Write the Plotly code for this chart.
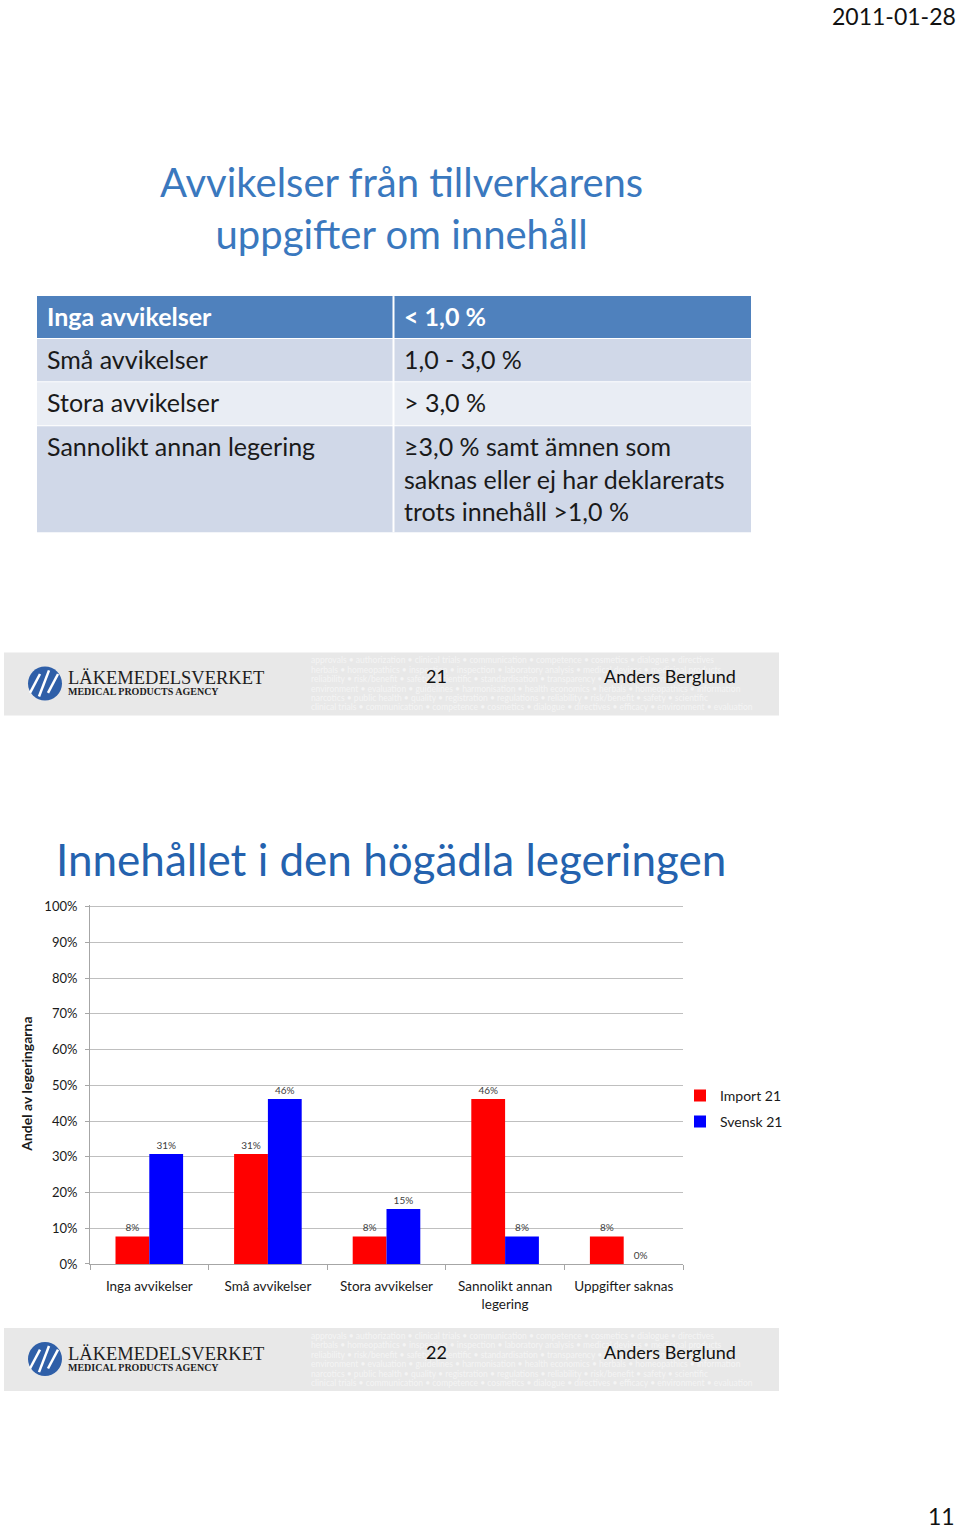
import plotly.graph_objects as go

W, H = 960, 1536
# calibration of the page -> picture mapping observed in the renderer (vertical only)
Y0, YS = 8.2, 0.9893

# ---------------- data ----------------
categories = ["Inga avvikelser", "Små avvikelser", "Stora avvikelser",
              "Sannolikt annan<br>legering", "Uppgifter saknas"]
import_vals = [0.077, 0.308, 0.077, 0.462, 0.077]
svensk_vals = [0.308, 0.462, 0.154, 0.077, 0.0]
series_names = ["Import 21", "Svensk 21"]

table_left = ["Inga avvikelser", "Små avvikelser", "Stora avvikelser",
              "Sannolikt annan legering"]
table_right = ["< 1,0 %", "1,0 - 3,0 %", "> 3,0 %",
               "≥3,0 % samt ämnen som<br>saknas eller ej har deklarerats<br>trots innehåll >1,0 %"]

page_numbers = ["21", "22"]
author = "Anders Berglund"
date_text = "2011-01-28"
page_label = "11"
slide1_title = "Avvikelser från tillverkarens<br>uppgifter om innehåll"
slide2_title = "Innehållet i den högädla legeringen"
y_title = "Andel av legeringarna"

watermark = [
    "approvals • authorization • clinical trials • communication • competence • cosmetics • dialogue • directives",
    "herbals • homeopathics • inspection • inspection • laboratory analysis • medical devices • medicinal products",
    "reliability • risk/benefit • safety • scientific • standardisation • transparency • pharmacovigilance • authority",
    "environment • evaluation • guidelines • harmonisation • health economics • herbals • homeopathics • information",
    "narcotics • public health • quality • registration • regulations • reliability • risk/benefit • safety • scientific",
    "clinical trials • communication • competence • cosmetics • dialogue • directives • efficacy • environment • evaluation",
]


def px(x):
    return x / W


def py(y):
    return 1 - ((y - Y0) / YS) / H


FONT = "Lato, 'Open Sans', sans-serif"
SERIF = "'Liberation Serif', 'DejaVu Serif', serif"

fig = go.Figure()
fig.add_trace(go.Bar(x=categories, y=import_vals, name=series_names[0], legendgroup="a",
                     marker=dict(color="#FF0000", line=dict(width=0)),
                     texttemplate="%{y:.0%}", textposition="outside",
                     textfont=dict(size=10, color="#404040", family=FONT),
                     cliponaxis=False))
fig.add_trace(go.Bar(x=categories, y=svensk_vals, name=series_names[1], legendgroup="b",
                     marker=dict(color="#0000FF", line=dict(width=0)),
                     texttemplate="%{y:.0%}", textposition="outside",
                     textfont=dict(size=10, color="#404040", family=FONT),
                     cliponaxis=False))

shapes = []
annotations = []

# ---------------- slide 1: title ----------------
annotations.append(dict(x=px(401), y=py(209), xref="paper", yref="paper",
                        text=slide1_title, showarrow=False, xanchor="center", yanchor="middle",
                        font=dict(family=FONT, size=40, color="#3A78BE"), align="center"))

# ---------------- table ----------------
row_bounds = [(297, 339), (340, 382), (383, 426), (427, 533)]
row_colors = ["#4F81BD", "#D0D8E8", "#E9EDF4", "#D0D8E8"]
for (y0, y1), c in zip(row_bounds, row_colors):
    shapes.append(dict(type="rect", xref="paper", yref="paper", x0=px(37), x1=px(751),
                       y0=py(y1), y1=py(y0), fillcolor=c, line=dict(width=0), layer="below"))
shapes.append(dict(type="line", xref="paper", yref="paper", x0=px(393.5), x1=px(393.5),
                   y0=py(533), y1=py(297), line=dict(color="white", width=2), layer="below"))
for i, (lt, rt) in enumerate(zip(table_left, table_right)):
    y0, y1 = row_bounds[i]
    header = i == 0
    col = "white" if header else "#1a1a1a"
    txt_l = f"<b>{lt}</b>" if header else lt
    txt_r = f"<b>{rt}</b>" if header else rt
    ytop = y0 + 3
    annotations.append(dict(x=px(45), y=py(ytop), xref="paper", yref="paper", text=txt_l,
                            showarrow=False, xanchor="left", yanchor="top", align="left",
                            font=dict(family=FONT, size=25, color=col)))
    annotations.append(dict(x=px(402), y=py(ytop), xref="paper", yref="paper", text=txt_r,
                            showarrow=False, xanchor="left", yanchor="top", align="left",
                            font=dict(family=FONT, size=25, color=col)))


# ---------------- footer bands ----------------
def footer(ytop, num):
    ybot = ytop + 63
    shapes.append(dict(type="rect", xref="paper", yref="paper", x0=px(4), x1=px(779),
                       y0=py(ybot), y1=py(ytop), fillcolor="#E8E8E8", line=dict(width=0), layer="below"))
    for k, line in enumerate(watermark):
        annotations.append(dict(x=px(309), y=py(ytop + 8 + k * 9.4), xref="paper", yref="paper",
                                text=line, showarrow=False, xanchor="left", yanchor="middle",
                                font=dict(family=FONT, size=8.5, color="#F4F4F4")))
    # logo circle
    cx, cy, r = 45, ytop + 31, 17
    shapes.append(dict(type="circle", xref="paper", yref="paper", x0=px(cx - r), x1=px(cx + r),
                       y0=py(cy + r), y1=py(cy - r), fillcolor="#2F5FA8", line=dict(width=0),
                       layer="above"))
    for off in (-9, 0, 9):
        shapes.append(dict(type="line", xref="paper", yref="paper",
                           x0=px(cx + off - 6), y0=py(cy + 13 - abs(off) * 0.4),
                           x1=px(cx + off + 4), y1=py(cy - 13 + abs(off) * 0.4),
                           line=dict(color="white", width=2.5), layer="above"))
    annotations.append(dict(x=px(66), y=py(ytop + 26), xref="paper", yref="paper",
                            text="LÄKEMEDELSVERKET", showarrow=False, xanchor="left", yanchor="middle",
                            font=dict(family=SERIF, size=18.5, color="#1E1E1E")))
    annotations.append(dict(x=px(66), y=py(ytop + 39), xref="paper", yref="paper",
                            text="<b>MEDICAL PRODUCTS AGENCY</b>", showarrow=False, xanchor="left",
                            yanchor="middle", font=dict(family=SERIF, size=10, color="#1E1E1E")))
    annotations.append(dict(x=px(436), y=py(ytop + 24), xref="paper", yref="paper",
                            text=num, showarrow=False, xanchor="center", yanchor="middle",
                            font=dict(family=FONT, size=18, color="#111111")))
    annotations.append(dict(x=px(670), y=py(ytop + 24), xref="paper", yref="paper",
                            text=author, showarrow=False, xanchor="center", yanchor="middle",
                            font=dict(family=FONT, size=18, color="#111111")))


footer(653, page_numbers[0])
footer(1328, page_numbers[1])

# ---------------- slide 2 title ----------------
annotations.append(dict(x=px(391), y=py(859), xref="paper", yref="paper", text=slide2_title,
                        showarrow=False, xanchor="center", yanchor="middle",
                        font=dict(family=FONT, size=44, color="#2462AE")))

# y axis title
annotations.append(dict(x=px(27), y=py(1085), xref="paper", yref="paper", text=f"<b>{y_title}</b>",
                        showarrow=False, xanchor="center", yanchor="middle", textangle=-90,
                        font=dict(family=FONT, size=14, color="#1a1a1a")))

# date and page number
annotations.append(dict(x=px(958), y=py(17), xref="paper", yref="paper", text=date_text,
                        showarrow=False, xanchor="right", yanchor="middle",
                        font=dict(family=FONT, size=23, color="#111111")))
annotations.append(dict(x=px(957), y=py(1516), xref="paper", yref="paper", text=page_label,
                        showarrow=False, xanchor="right", yanchor="middle",
                        font=dict(family=FONT, size=23, color="#111111")))

fig.update_layout(
    width=W, height=H, autosize=False,
    margin=dict(l=0, r=0, t=0, b=0),
    paper_bgcolor="white", plot_bgcolor="white",
    barmode="group", bargap=0.43, bargroupgap=0,
    font=dict(family=FONT, color="#1a1a1a"),
    shapes=shapes, annotations=annotations,
    showlegend=True,
    legend=dict(x=px(680), y=py(1080), xanchor="left", yanchor="top",
                font=dict(family=FONT, size=14, color="#1a1a1a"),
                bgcolor="rgba(0,0,0,0)", itemwidth=30, tracegroupgap=5),
    xaxis=dict(domain=[px(90), px(683)], showline=True, linecolor="#A6A6A6", linewidth=1,
               ticks="outside", tickson="boundaries", ticklen=5, tickcolor="#A6A6A6",
               ticklabelstandoff=10,
               tickfont=dict(family=FONT, size=13.5, color="#1a1a1a"), showgrid=False,
               fixedrange=True),
    yaxis=dict(domain=[py(1264), py(905.2)], range=[0, 1.005], dtick=0.1, tickformat=".0%",
               showline=True, linecolor="#A6A6A6", linewidth=1, ticks="outside", ticklen=4,
               tickcolor="#A6A6A6", showgrid=True, gridcolor="#BFBFBF", gridwidth=1,
               ticklabelstandoff=5,
               zeroline=False, tickfont=dict(family=FONT, size=13, color="#1a1a1a"),
               fixedrange=True),
)

fig.write_html(
    "out.html",
    config={"displayModeBar": False},
    post_script=(
        "document.documentElement.style.margin='0';"
        "document.documentElement.style.overflow='hidden';"
        "document.body.style.margin='0';document.body.style.padding='0';"
        "document.body.style.overflow='hidden';"
        "var g=document.getElementById('{plot_id}');"
        "g.style.position='absolute';g.style.top='0px';g.style.left='0px';"
    ),
)
